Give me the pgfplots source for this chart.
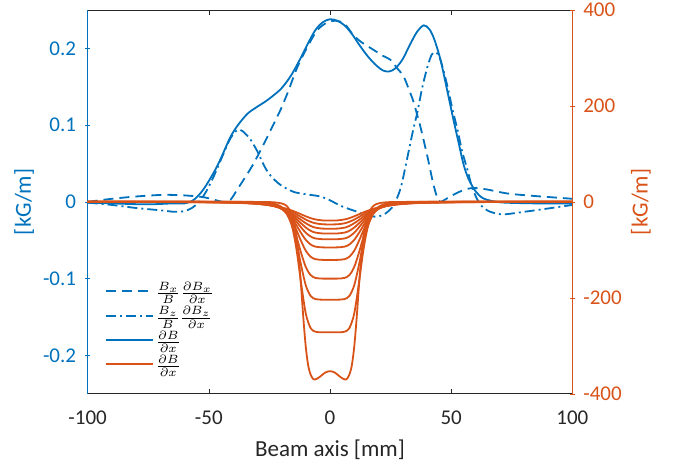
\documentclass[border=0pt]{standalone}
\usepackage{fontspec}
\setmainfont{Carlito}
\usepackage{pgfplots}
\pgfplotsset{compat=1.18}
\usepackage{pgfplotstable}
\definecolor{mblue}{rgb}{0,0.447,0.741}
\definecolor{morange}{rgb}{0.85,0.325,0.098}
\definecolor{mgray}{rgb}{0.15,0.15,0.15}
\pgfplotsset{every non boxed x axis/.append style={x axis line style=-},
             every non boxed y axis/.append style={y axis line style=-}}
\newcommand{\labfont}{\fontsize{11.5}{13}\selectfont}

\pgfplotstableread{
x     k0     k1     k2     k3     k4     k5     k6     k7     k8     k9
-100  -0.1   -0.1   0      0      0      0      0      0      0      0
-60   -0.6   -0.5   -0.3   -0.2   -0.1   0      0      0      0      0
-40   -2.0   -1.7   -1.5   -1.1   -0.8   -0.6   -0.4   -0.3   -0.1   0
-32   -3.6   -3.4   -3.1   -2.6   -2.1   -1.8   -1.3   -0.9   -0.6   -0.4
-27   -5.7   -5.7   -5.5   -4.9   -4.4   -3.9   -3.2   -2.5   -1.8   -1.3
-23   -8.5   -8.9   -9.1   -8.8   -8.3   -8.0   -7.3   -6.3   -5.1   -3.9
-20   -11.6  -12.7  -13.6  -14.0  -14.1  -14.5  -14.4  -13.8  -12.3  -10.5
-18   -14.3  -16.2  -17.9  -19.2  -20.3  -21.9  -23.0  -23.9  -22.9  -21.5
-16   -17.6  -20.5  -23.4  -26.1  -29.0  -32.8  -36.9  -41.6  -43.7  -45.4
-15   -19.5  -23.0  -26.6  -30.3  -34.3  -39.7  -46.2  -54.3  -59.8  -65.8
-14   -21.5  -25.6  -30.1  -34.9  -40.2  -47.5  -57.0  -69.7  -80.3  -93.5
-13   -23.6  -28.4  -33.8  -39.7  -46.5  -55.9  -68.9  -87.2  -104.5 -128.4
-12   -25.8  -31.3  -37.5  -44.5  -52.8  -64.3  -80.9  -105.2 -130.3 -167.0
-10   -30.1  -36.9  -44.6  -53.5  -64.3  -79.2  -101.8 -135.8 -173.9 -232.7
-8    -33.9  -41.5  -50.2  -60.3  -72.2  -88.9  -114.4 -152.7 -196.1 -263.1
-6    -36.7  -44.7  -53.8  -64.1  -76.3  -93.4  -119.5 -158.6 -202.7 -270.8
-3    -38.7  -46.8  -55.8  -65.9  -77.9  -94.9  -121.0 -160.0 -204.0 -272.0
0     -39.0  -47.0  -56.0  -66.0  -78.0  -95.0  -121.0 -160.0 -204.0 -272.0
3     -38.7  -46.8  -55.8  -65.9  -77.9  -94.9  -121.0 -160.0 -204.0 -272.0
6     -36.7  -44.7  -53.8  -64.1  -76.3  -93.4  -119.5 -158.6 -202.7 -270.8
8     -33.9  -41.5  -50.2  -60.3  -72.2  -88.9  -114.4 -152.7 -196.1 -263.1
10    -30.1  -36.9  -44.6  -53.5  -64.3  -79.2  -101.8 -135.8 -173.9 -232.7
12    -25.8  -31.3  -37.5  -44.5  -52.8  -64.3  -80.9  -105.2 -130.3 -167.0
13    -23.6  -28.4  -33.8  -39.7  -46.5  -55.9  -68.9  -87.2  -104.5 -128.4
14    -21.5  -25.6  -30.1  -34.9  -40.2  -47.5  -57.0  -69.7  -80.3  -93.5
15    -19.5  -23.0  -26.6  -30.3  -34.3  -39.7  -46.2  -54.3  -59.8  -65.8
16    -17.6  -20.5  -23.4  -26.1  -29.0  -32.8  -36.9  -41.6  -43.7  -45.4
18    -14.3  -16.2  -17.9  -19.2  -20.3  -21.9  -23.0  -23.9  -22.9  -21.5
20    -11.6  -12.7  -13.6  -14.0  -14.1  -14.5  -14.4  -13.8  -12.3  -10.5
23    -8.5   -8.9   -9.1   -8.8   -8.3   -8.0   -7.3   -6.3   -5.1   -3.9
27    -5.7   -5.7   -5.5   -4.9   -4.4   -3.9   -3.2   -2.5   -1.8   -1.3
32    -3.6   -3.4   -3.1   -2.6   -2.1   -1.8   -1.3   -0.9   -0.6   -0.4
40    -2.0   -1.7   -1.5   -1.1   -0.8   -0.6   -0.4   -0.3   -0.1   0
60    -0.6   -0.5   -0.3   -0.2   -0.1   0      0      0      0      0
100   -0.1   -0.1   0      0      0      0      0      0      0      0
}\orangetab

\pgfplotstableread{
x     y
-100  0
-40   0
-27   -0.3
-23   -1.0
-20   -3.2
-18   -8
-16   -22
-15   -38
-14   -65
-13   -109
-12   -171
-11   -242
-10   -302
-9    -341
-8    -360
-6.8  -370
-5.5  -369
-4    -364
-2    -356
0     -353
2     -356
4     -364
5.5   -369
6.8   -370
8     -360
9     -341
10    -302
11    -242
12    -171
13    -109
14    -65
15    -38
16    -22
18    -8
20    -3.2
23    -1.0
27    -0.3
40    0
100   0
}\deeptab

\begin{document}
\begin{tikzpicture}
\pgfplotsset{
  common/.style={width=242.3pt, height=191.8pt, scale only axis,
    xmin=-100, xmax=100, tick align=inside, major tick length=2.5pt,
    tick label style={font=\fontsize{10.5}{12}\selectfont}},
}
\begin{axis}[common, name=ax1,
  axis x line=box, axis y line=left,
  ymin=-0.25, ymax=0.25,
  xtick={-100,-50,0,50,100}, xticklabels={-100,-50,0,50,100},
  ytick={-0.2,-0.1,0,0.1,0.2}, yticklabels={-0.2,-0.1,0,0.1,0.2},
  xtick pos=both, xticklabel pos=lower, ytick pos=left,
  x axis line style={draw=mgray}, y axis line style={draw=mblue},
  x tick style={draw=mgray}, y tick style={draw=mblue},
  x tick label style={text=mgray, yshift=-4.8pt},
  y tick label style={text=mblue, xshift=-1pt},
  xlabel={\labfont Beam axis [mm]},
  xlabel style={text=mgray, at={(axis description cs:0.5,0)}, anchor=center, yshift=-28pt},
  ylabel={\labfont [kG/m]},
  ylabel style={text=mblue, at={(axis description cs:0,0.5)}, anchor=center, yshift=31.8pt},
  legend style={draw=none, fill=none, at={(axis description cs:0.0357,0.297)}, anchor=north west,
    inner sep=0pt, outer sep=0pt, row sep=1.1pt, font=\fontsize{8}{9.5}\selectfont,
    nodes={inner sep=1pt}},
  legend cell align=left,
  legend image code/.code={\draw[#1] (0pt,0pt) -- (23.5pt,0pt);},
]
\addplot[mblue, line width=0.9pt, dash pattern=on 5pt off 3pt, smooth, tension=0.5] coordinates {
(-100,0.0) (-90,0.004) (-80,0.007) (-70,0.009) (-64,0.009) (-58,0.008) (-52,0.006) (-48,0.003)
(-44,0.0) (-41,0.003) (-38.5,0.015) (-36,0.027) (-33,0.042) (-31.5,0.05) (-28.5,0.068)
(-25.8,0.085) (-23,0.103) (-20.4,0.12) (-17.5,0.142) (-13.4,0.176) (-9.3,0.202) (-5.2,0.224)
(-1,0.234) (2.5,0.236) (6,0.232) (9.7,0.217) (13,0.208) (18,0.198) (22,0.19) (25,0.185)
(28,0.173) (30.3,0.164) (32.5,0.147) (34.4,0.131) (36,0.113) (37.3,0.098) (40.2,0.059)
(42.5,0.025) (44.3,0.005) (45.6,0.0) (48,0.004) (52.6,0.012) (56.7,0.017) (60,0.018)
(65,0.016) (73,0.011) (83,0.008) (100,0.004)};
\addlegendentry{$\frac{B_x}{B}\frac{\partial B_x}{\partial x}$}
\addplot[mblue, line width=0.9pt, dash pattern=on 5pt off 2pt on 1pt off 2pt, smooth, tension=0.5] coordinates {
(-100,-0.001) (-90,-0.004) (-80,-0.008) (-70,-0.011) (-64,-0.013) (-60,-0.012) (-57,-0.008)
(-54,0.0) (-51,0.014) (-48,0.033) (-45,0.055) (-42,0.077) (-40,0.088) (-38,0.094) (-36,0.092)
(-33,0.082) (-30,0.066) (-27,0.046) (-24.5,0.034) (-20.4,0.022) (-15,0.013) (-10,0.010)
(-4,0.007) (0,0.002) (4.3,-0.005) (8.5,-0.01) (11.3,-0.013) (14,-0.017) (17,-0.019) (20,-0.019)
(22.5,-0.016) (24.5,-0.011) (26.2,-0.005) (27.8,0.006) (29.5,0.022) (32,0.059) (34.4,0.095)
(36,0.116) (38,0.148) (40.2,0.176) (42,0.192) (43.5,0.195) (45,0.19) (46.5,0.175) (48.5,0.15)
(50.5,0.121) (52.6,0.094) (54.5,0.066) (56.7,0.042) (58.5,0.02) (60.8,0.003) (63,-0.007)
(66.2,-0.013) (70,-0.016) (73,-0.016) (80,-0.013) (87,-0.01) (100,-0.004)};
\addlegendentry{$\frac{B_z}{B}\frac{\partial B_z}{\partial x}$}
\addplot[mblue, line width=0.9pt, smooth, tension=0.5] coordinates {
(-100,-0.001) (-90,-0.002) (-80,-0.003) (-72,-0.003) (-65,-0.002) (-60,-0.002) (-57,0.001)
(-55,0.006) (-53,0.013) (-51,0.022) (-48,0.038) (-46,0.05) (-44,0.064) (-41,0.085) (-38,0.100)
(-34,0.115) (-30,0.124) (-27,0.130) (-24,0.137) (-20,0.148) (-16,0.165) (-12,0.188) (-9,0.207)
(-6,0.224) (-3,0.234) (0,0.238) (3,0.236) (6,0.230) (9,0.219) (12,0.205) (15.5,0.190)
(19,0.178) (22,0.171) (24.5,0.170) (27,0.174) (30,0.186) (33,0.205) (36,0.222) (38.7,0.230)
(41,0.225) (43,0.212) (45.6,0.185) (48.3,0.146) (51,0.106) (53,0.078) (55,0.050) (57,0.031)
(60,0.014) (63,0.005) (67,0.001) (72,-0.001) (85,-0.002) (100,-0.002)};
\addlegendentry{$\frac{\partial B}{\partial x}$}
\addlegendimage{morange, line width=0.9pt}
\addlegendentry{$\frac{\partial B}{\partial x}$}
\end{axis}

\begin{axis}[common,
  axis x line=none, axis y line=right,
  ymin=-400, ymax=400, xtick=\empty,
  ytick={-400,-200,0,200,400}, yticklabels={-400,-200,0,200,400},
  ytick pos=right, yticklabel pos=right,
  y axis line style={draw=morange}, y tick style={draw=morange},
  y tick label style={text=morange, xshift=0.7pt},
  ylabel={\labfont [kG/m]},
  ylabel style={text=morange, at={(axis description cs:1,0.5)}, anchor=center, yshift=-34.3pt},
]
\foreach \k in {k0,k1,k2,k3,k4,k5,k6,k7,k8,k9} {
  \addplot[morange, line width=0.9pt, smooth, tension=0.5] table[x=x, y=\k] {\orangetab};
}
\addplot[morange, line width=0.9pt, smooth, tension=0.5] table[x=x, y=y] {\deeptab};
\end{axis}

\pgfresetboundingbox
\path[use as bounding box] ([xshift=-43.8pt,yshift=-35.3pt]ax1.south west)
  rectangle ([xshift=52.8pt,yshift=5pt]ax1.north east);
\end{tikzpicture}
\end{document}
